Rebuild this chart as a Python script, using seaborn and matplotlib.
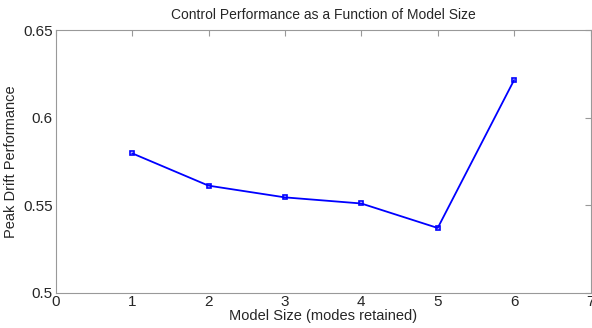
import matplotlib
matplotlib.use("Agg")
import matplotlib.pyplot as plt
import seaborn as sns
import pandas as pd

model_size = [1, 2, 3, 4, 5, 6]
peak_drift = [0.5797, 0.5612, 0.5545, 0.5510, 0.5370, 0.6216]
x_ticks = [0, 1, 2, 3, 4, 5, 6, 7]
y_ticks = [0.5, 0.55, 0.6, 0.65]
y_tick_labels = ["0.5", "0.55", "0.6", "0.65"]

sns.set_style("white")
plt.rcParams['font.family'] = ['Liberation Sans', 'DejaVu Sans']

df = pd.DataFrame({"size": model_size, "perf": peak_drift})

fig = plt.figure(figsize=(5.92, 3.28), dpi=100)
ax = fig.add_axes([0.0941, 0.1076, 0.9034, 0.80])
sns.lineplot(data=df, x="size", y="perf", ax=ax, color="#0000ff", linewidth=1.3,
             marker="s", markersize=3.5, markerfacecolor="none",
             markeredgecolor="#0000ff", markeredgewidth=1.2)

ax.set_xlim(0, 7)
ax.set_ylim(0.5, 0.65)
ax.set_xticks(x_ticks)
ax.set_yticks(y_ticks)
ax.set_yticklabels(y_tick_labels)
ax.tick_params(direction="in", length=4, width=0.8, color="#999999",
               labelsize=11, top=True, right=True, pad=2)
for s in ax.spines.values():
    s.set_visible(True)
    s.set_color("#999999")
    s.set_linewidth(0.8)
ax.set_xlabel("Model Size (modes retained)", fontsize=10.5, labelpad=0)
ax.set_ylabel("Peak Drift Performance", fontsize=10.5, labelpad=4)
ax.set_title("Control Performance as a Function of Model Size", fontsize=10, pad=8)

fig.savefig("out.png", dpi=100)
